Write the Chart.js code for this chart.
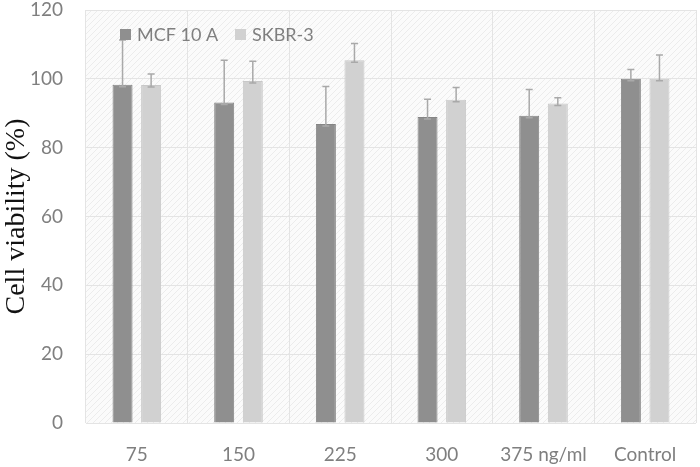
<!DOCTYPE html>
<html>
<head>
<meta charset="utf-8">
<script src="https://cdn.jsdelivr.net/npm/chart.js@4/dist/chart.umd.min.js"></script>
<style>
html,body{margin:0;padding:0;background:#fff;}
#wrap{width:700px;height:467px;}
</style>
</head>
<body>
<div id="wrap"><canvas id="c" width="700" height="467"></canvas></div>
<script>
const categories = ["75", "150", "225", "300", "375 ng/ml", "Control"];
const mcfValues = [98.3, 93.1, 86.9, 88.9, 89.3, 100];
const mcfErrors = [13.0, 12.3, 10.9, 5.2, 7.6, 2.7];
const skbrValues = [98.2, 99.4, 105.4, 93.9, 92.8, 100];
const skbrErrors = [3.2, 5.7, 4.9, 3.6, 1.7, 6.9];
const yTicks = [0, 20, 40, 60, 80, 100, 120];

const hatchBg = {
  id: 'hatchBg',
  beforeDraw(chart) {
    const {ctx, chartArea: a} = chart;
    const p = document.createElement('canvas');
    p.width = 6; p.height = 6;
    const pc = p.getContext('2d');
    pc.fillStyle = '#fbfbfb';
    pc.fillRect(0, 0, 6, 6);
    pc.strokeStyle = '#ececec';
    pc.lineWidth = 1;
    pc.beginPath();
    pc.moveTo(0, 6); pc.lineTo(6, 0);
    pc.moveTo(-1, 1); pc.lineTo(1, -1);
    pc.moveTo(5, 7); pc.lineTo(7, 5);
    pc.stroke();
    ctx.save();
    ctx.fillStyle = ctx.createPattern(p, 'repeat');
    ctx.fillRect(a.left, a.top, a.right - a.left, a.bottom - a.top);
    ctx.restore();
  }
};

const errorBars = {
  id: 'errorBars',
  afterDatasetsDraw(chart) {
    const {ctx} = chart;
    const y = chart.scales.y;
    chart.data.datasets.forEach((ds, i) => {
      const meta = chart.getDatasetMeta(i);
      meta.data.forEach((bar, j) => {
        const v = ds.data[j];
        const e = ds.errors[j];
        const y0 = y.getPixelForValue(v);
        const y1 = y.getPixelForValue(v + e);
        const x = bar.x;
        ctx.save();
        ctx.strokeStyle = '#a9a9a9';
        ctx.lineWidth = 1.5;
        ctx.beginPath();
        ctx.moveTo(x, y0 + 2); ctx.lineTo(x, y1);
        ctx.moveTo(x - 3.5, y1); ctx.lineTo(x + 3.5, y1);
        ctx.moveTo(x - 3.5, y0 + 2); ctx.lineTo(x + 3.5, y0 + 2);
        ctx.stroke();
        ctx.restore();
      });
    });
  }
};

const customLegend = {
  id: 'customLegend',
  afterDraw(chart) {
    const {ctx} = chart;
    const pos = [120, 235];
    ctx.save();
    ctx.font = '18px Lato, "Open Sans", sans-serif';
    ctx.textBaseline = 'middle';
    chart.data.datasets.forEach((ds, i) => {
      const x = pos[i];
      ctx.fillStyle = ds.backgroundColor;
      ctx.fillRect(x, 29, 11, 11);
      ctx.fillStyle = '#7f7f7f';
      ctx.fillText(ds.label, x + 17, 35);
    });
    ctx.restore();
  }
};

new Chart(document.getElementById('c'), {
  type: 'bar',
  data: {
    labels: categories,
    datasets: [
      {label: 'MCF 10 A', data: mcfValues, errors: mcfErrors, backgroundColor: '#8f8f8f', borderColor: '#858585', borderWidth: 1, categoryPercentage: 0.5625, barPercentage: 0.7},
      {label: 'SKBR-3', data: skbrValues, errors: skbrErrors, backgroundColor: '#d1d1d1', borderColor: '#c8c8c8', borderWidth: 1, categoryPercentage: 0.5625, barPercentage: 0.7}
    ]
  },
  options: {
    responsive: false,
    animation: false,
    layout: {padding: {top: 10, right: 4, left: 0, bottom: 0}},
    plugins: {legend: {display: false}, tooltip: {enabled: false}},
    scales: {
      x: {
        offset: true,
        grid: {offset: true, color: '#e4e4e4', drawTicks: false},
        border: {display: false},
        ticks: {color: '#7f7f7f', font: {family: 'Lato, "Open Sans", sans-serif', size: 19}, padding: 20},
        afterFit(s) { s.height = 44; s.paddingLeft = 0; s.paddingRight = 0; }
      },
      y: {
        min: 0, max: 120,
        afterBuildTicks(s) { s.ticks = yTicks.map(v => ({value: v})); },
        grid: {color: '#e4e4e4', drawTicks: false},
        border: {display: false},
        ticks: {color: '#7f7f7f', font: {family: 'Lato, "Open Sans", sans-serif', size: 19}, padding: 23},
        title: {display: true, text: 'Cell viability (%)', color: '#111', font: {family: '"Liberation Serif", "DejaVu Serif", serif', size: 28}, padding: {top: 0, bottom: 2}},
        afterFit(s) { s.width = 86; s.paddingTop = 0; s.paddingBottom = 0; }
      }
    }
  },
  plugins: [hatchBg, errorBars, customLegend]
});
</script>
</body>
</html>
